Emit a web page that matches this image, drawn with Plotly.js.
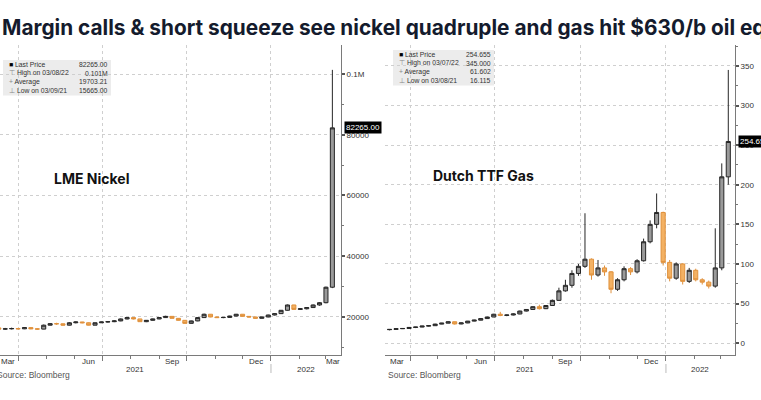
<!DOCTYPE html>
<html>
<head>
<meta charset="utf-8">
<script src="https://cdn.plot.ly/plotly-3.0.1.min.js"></script>
<style>
  html, body { margin: 0; padding: 0; background: #fff; }
  #chart { width: 761px; height: 400px; }
</style>
</head>
<body>
<div id="chart"></div>
<script>
// ---------- DATA (weekly candles) ----------
const weeks = [
  '2021-03-10','2021-03-17','2021-03-24','2021-03-31','2021-04-07','2021-04-14','2021-04-21','2021-04-28',
  '2021-05-05','2021-05-12','2021-05-19','2021-05-26','2021-06-02','2021-06-09','2021-06-16','2021-06-23',
  '2021-06-30','2021-07-07','2021-07-14','2021-07-21','2021-07-28','2021-08-04','2021-08-11','2021-08-18',
  '2021-08-25','2021-09-01','2021-09-08','2021-09-15','2021-09-22','2021-09-29','2021-10-06','2021-10-13',
  '2021-10-20','2021-10-27','2021-11-03','2021-11-10','2021-11-17','2021-11-24','2021-12-01','2021-12-08',
  '2021-12-15','2021-12-22','2021-12-29','2022-01-05','2022-01-12','2022-01-19','2022-01-26','2022-02-02',
  '2022-02-09','2022-02-16','2022-02-23','2022-03-02','2022-03-09'
];

const nickelOpen  = [16400,16000,16100,16200,16100,16500,16100,16000,17300,17800,17750,17300,18100,18350,18100,17300,
  18100,18350,18450,18700,19350,19800,19350,18450,18900,19350,19800,20200,19550,18900,17900,18700,
  19800,20900,20000,19800,19850,20300,20900,20200,20000,19550,20000,20650,21100,22200,23950,22500,
  22700,23100,23950,24700,29800];
const nickelHigh  = [16600,16400,16500,16400,16700,16600,16300,17500,18000,18100,17900,18300,18500,18400,18200,18200,
  18450,18600,18900,19500,19900,19900,19400,19000,19450,19900,20400,20250,19650,19000,18800,19900,
  21100,20950,20100,20000,20400,21000,20950,20300,20100,20100,20750,21300,22300,24100,24000,22900,
  23200,24100,24900,30000,101365];
const nickelLow   = [15665,15800,15900,15900,16000,15950,15750,15950,17200,17400,17100,17200,17900,17900,17200,17250,
  18000,18200,18300,18600,19200,19200,18400,18300,18800,19250,19700,19450,18800,17800,17850,18600,
  19700,19900,19650,19600,19750,20200,20100,19800,19450,19500,19900,20500,21000,22100,22400,22300,
  22500,23000,23700,24500,29500];
const nickelClose = [16000,16100,16200,16100,16500,16100,16000,17300,17800,17750,17300,18100,18350,18100,17300,18100,
  18350,18450,18700,19350,19800,19350,18450,18900,19350,19800,20200,19550,18900,17900,18700,19800,
  20900,20000,19800,19850,20300,20900,20200,20000,19550,20000,20650,21100,22200,23950,22500,22700,
  23100,23950,24700,29800,82265];

const gasOpen  = [17.0,17.3,18.2,18.5,19.8,20.3,21.5,22.0,24.0,25.2,27.0,24.2,25.5,27.8,29.0,31.0,
  33.0,36.5,35.0,35.5,36.8,40.5,42.5,46.0,43.5,47.5,54.0,66.0,73.0,88.0,97.0,106.0,
  86.0,95.0,90.0,68.0,80.0,94.0,90.0,104.0,128.0,150.0,165.0,102.0,82.0,100.0,78.0,92.0,
  80.0,77.0,72.0,95.0,210.0];
const gasHigh  = [17.8,18.5,18.9,20.0,20.5,21.8,22.5,24.5,25.5,27.5,27.2,26.0,28.0,29.5,31.5,33.5,
  37.0,39.5,36.0,37.5,41.0,43.0,46.5,48.5,48.0,55.0,70.0,80.0,92.0,100.0,164.0,107.0,
  105.0,98.0,91.0,82.0,97.0,96.0,106.0,132.0,155.0,189.0,166.0,105.0,102.0,101.0,95.0,94.0,
  82.0,79.0,145.0,227.0,345.0];
const gasLow   = [16.115,17.0,17.8,18.2,19.0,20.0,21.0,21.8,23.8,25.0,23.5,23.8,25.2,27.5,28.8,30.5,
  32.8,34.0,34.0,35.0,36.5,40.0,42.0,42.5,43.0,47.0,53.5,65.0,70.0,85.0,95.0,80.0,
  84.0,85.0,63.0,66.0,78.0,86.0,88.0,103.0,126.0,145.0,98.0,78.0,80.0,74.0,76.0,78.0,
  74.0,69.0,70.0,92.0,200.0];
const gasClose = [17.3,18.2,18.5,19.8,20.3,21.5,22.0,24.0,25.2,27.0,24.2,25.5,27.8,29.0,31.0,33.0,
  36.5,35.0,35.5,36.8,40.5,42.5,46.0,43.5,47.5,54.0,66.0,73.0,88.0,97.0,106.0,86.0,
  95.0,90.0,68.0,80.0,94.0,90.0,104.0,128.0,150.0,165.0,102.0,82.0,100.0,78.0,92.0,80.0,
  77.0,72.0,95.0,210.0,254.655];

// axis labels
const nickelTickVals  = [20000,40000,60000,80000,100000];
const nickelTickText  = ['20000','40000','60000','80000','0.1M'];
const gasTickVals     = [0,50,100,150,200,250,300,350];
const gasTickText     = ['0','50','100','150','200','250','300','350'];
const quarterStarts   = ['2021-04-01','2021-07-01','2021-10-01','2022-01-01'];
const monthLabels     = ['Mar','Jun','Sep','Dec','Mar'];
const nickelMonthAt   = ['2021-03-20','2021-06-15 12:00','2021-09-15','2021-12-16','2022-03-09 12:00'];
const gasMonthAt      = ['2021-03-18','2021-06-15 12:00','2021-09-15','2021-12-16'];
const yearLabels      = ['2021','2022'];
const nickelYearAt    = ['2021-08-06','2022-02-08'];
const gasYearAt       = ['2021-08-03','2022-02-07'];

// legend boxes
const legendLabels  = ['Last Price','High on 03/08/22','Average','Low on 03/09/21'];
const gasLegendLabels = ['Last Price','High on 03/07/22','Average','Low on 03/08/21'];
const nickelLegendValues = ['82265.00','0.101M','19703.21','15665.00'];
const gasLegendValues    = ['254.655','345.000','61.602','16.115'];
const legendGlyphs  = ['■','⊤','+','⊥'];

// ---------- STYLE ----------
const W = 761, H = 400;
const px = x => x / W;
const py = y => 1 - y / H;
const GRID = '#cfcfcf', AXIS = '#7a7a7a', TXT = '#333', FONT = 'Liberation Sans, Arial, sans-serif';

const candleStyle = {
  type: 'candlestick',
  whiskerwidth: 0,
  increasing: { line: { color: '#262626', width: 1 }, fillcolor: '#9a9a9a' },
  decreasing: { line: { color: '#e0913c', width: 1 }, fillcolor: '#f3b163' },
  hoverinfo: 'skip'
};

const traces = [
  Object.assign({}, candleStyle, { x: weeks, open: nickelOpen, high: nickelHigh, low: nickelLow, close: nickelClose, xaxis: 'x', yaxis: 'y' }),
  Object.assign({}, candleStyle, { x: weeks, open: gasOpen, high: gasHigh, low: gasLow, close: gasClose, xaxis: 'x2', yaxis: 'y2' })
];

function xAxis(domain, range) {
  return {
    domain: domain, type: 'date', range: range, anchor: domain[0] === 0 ? 'y' : 'y2',
    rangeslider: { visible: false },
    tickmode: 'array', tickvals: quarterStarts, showticklabels: false,
    ticks: 'outside', ticklen: 5, tickwidth: 1, tickcolor: AXIS,
    showgrid: true, gridcolor: GRID, griddash: 'dot', gridwidth: 1,
    minor: { dtick: 'M1', tick0: '2021-01-01', ticks: 'outside', ticklen: 3, tickcolor: AXIS, showgrid: false },
    showline: true, linecolor: AXIS, linewidth: 1, zeroline: false, fixedrange: true
  };
}
function yAxis(anchor, range, vals, text, minorVals) {
  return {
    domain: [py(355), py(45)], anchor: anchor, side: 'right', range: range,
    tickmode: 'array', tickvals: vals, ticktext: text,
    ticks: 'outside', ticklen: 3, tickwidth: 2, tickcolor: '#555',
    tickfont: { family: FONT, size: 8, color: TXT },
    showgrid: true, gridcolor: GRID, griddash: 'dot', gridwidth: 1,
    minor: { tickmode: 'array', tickvals: minorVals, ticks: 'outside', ticklen: 2, tickwidth: 1, tickcolor: '#777', showgrid: false },
    showline: true, linecolor: AXIS, linewidth: 1, zeroline: false, fixedrange: true
  };
}

const annotations = [];
const shapes = [];

// title
annotations.push({
  xref: 'paper', yref: 'paper', x: px(0), y: py(27), xanchor: 'left', yanchor: 'middle', showarrow: false,
  text: 'Margin calls & short squeeze see nickel quadruple and gas hit $630/b oil equivalent',
  font: { family: 'Inter, Roboto, sans-serif', size: 20.8, weight: 700, color: '#141b2d' }
});

// chart names
annotations.push({ xref: 'paper', yref: 'paper', x: px(52), y: py(178), xanchor: 'left', yanchor: 'middle', showarrow: false,
  text: 'LME Nickel', font: { family: 'Inter, Roboto, sans-serif', size: 14, weight: 700, color: '#111' } });
annotations.push({ xref: 'paper', yref: 'paper', x: px(431), y: py(175), xanchor: 'left', yanchor: 'middle', showarrow: false,
  text: 'Dutch TTF Gas', font: { family: 'Inter, Roboto, sans-serif', size: 14, weight: 700, color: '#111' } });

// month + year labels
function axisLabels(xref, monthAt, yearAt) {
  monthAt.forEach((d, i) => annotations.push({ xref: xref, yref: 'paper', x: d, y: py(361), xanchor: 'center', yanchor: 'middle',
    showarrow: false, text: monthLabels[i], font: { family: FONT, size: 8, color: TXT } }));
  yearAt.forEach((d, i) => annotations.push({ xref: xref, yref: 'paper', x: d, y: py(369.5), xanchor: 'center', yanchor: 'middle',
    showarrow: false, text: yearLabels[i], font: { family: FONT, size: 8, color: TXT } }));
  shapes.push({ type: 'line', xref: xref, yref: 'paper', x0: quarterStarts[3], x1: quarterStarts[3], y0: py(364), y1: py(373),
    line: { color: '#bbb', width: 1 } });
}
axisLabels('x', nickelMonthAt, nickelYearAt);
axisLabels('x2', gasMonthAt, gasYearAt);

// source lines
annotations.push({ xref: 'paper', yref: 'paper', x: px(-5), y: py(374.5), xanchor: 'left', yanchor: 'middle', showarrow: false,
  text: 'Source: Bloomberg', font: { family: FONT, size: 8.5, color: '#555' } });
annotations.push({ xref: 'paper', yref: 'paper', x: px(386), y: py(374.5), xanchor: 'left', yanchor: 'middle', showarrow: false,
  text: 'Source: Bloomberg', font: { family: FONT, size: 8.5, color: '#555' } });

// last price tags
annotations.push({ xref: 'paper', yref: 'y', x: px(343.5), y: nickelClose[nickelClose.length - 1], xanchor: 'left', yanchor: 'middle',
  showarrow: false, text: nickelLegendValues[0], bgcolor: '#000', borderpad: 1,
  font: { family: FONT, size: 8, color: '#fff' } });
annotations.push({ xref: 'paper', yref: 'y2', x: px(737.5), y: gasClose[gasClose.length - 1], xanchor: 'left', yanchor: 'middle',
  showarrow: false, text: gasLegendValues[0], bgcolor: '#000', borderpad: 1,
  font: { family: FONT, size: 8, color: '#fff' } });

// legend boxes
function legendBox(x0, x1, top, labels, values) {
  const step = 8.4;
  shapes.push({ type: 'rect', xref: 'paper', yref: 'paper', x0: px(x0), x1: px(x1), y0: py(top + 4 * step + 1), y1: py(top - 1),
    fillcolor: '#ececec', line: { width: 0 }, layer: 'below' });
  labels.forEach((lab, i) => {
    const y = py(top + 4 + i * step);
    annotations.push({ xref: 'paper', yref: 'paper', x: px(x0 + 4), y: y, xanchor: 'left', yanchor: 'middle', showarrow: false,
      text: '<span style="color:' + (i === 0 ? '#000' : '#888') + '">' + legendGlyphs[i] + '</span> ' + lab,
      font: { family: FONT, size: 6.8, color: TXT } });
    annotations.push({ xref: 'paper', yref: 'paper', x: px(x1 - 1), y: y, xanchor: 'right', yanchor: 'middle', showarrow: false,
      text: values[i], font: { family: FONT, size: 6.8, color: TXT } });
  });
}
legendBox(3, 111, 61, legendLabels, nickelLegendValues);
legendBox(393, 494, 51, gasLegendLabels, gasLegendValues);

const layout = {
  width: W, height: H,
  margin: { l: 0, r: 0, t: 0, b: 0, pad: 0 },
  paper_bgcolor: '#fff', plot_bgcolor: '#fff',
  showlegend: false, boxgap: 0.3, boxgroupgap: 0.1,
  font: { family: FONT, size: 8, color: TXT },
  xaxis: xAxis([0, px(341)], ['2021-03-11 07:00', '2022-03-18 10:00']),
  xaxis2: xAxis([px(385), px(735)], ['2021-03-05 03:00', '2022-03-16 05:00']),
  yaxis: yAxis('x', [7480, 109550], nickelTickVals, nickelTickText, [10000, 30000, 50000, 70000, 90000]),
  yaxis2: yAxis('x2', [-15, 376.5], gasTickVals, gasTickText, [25, 75, 125, 175, 225, 275, 325, 375]),
  annotations: annotations,
  shapes: shapes
};

Plotly.newPlot('chart', traces, layout, { staticPlot: true, displayModeBar: false });
</script>
</body>
</html>
